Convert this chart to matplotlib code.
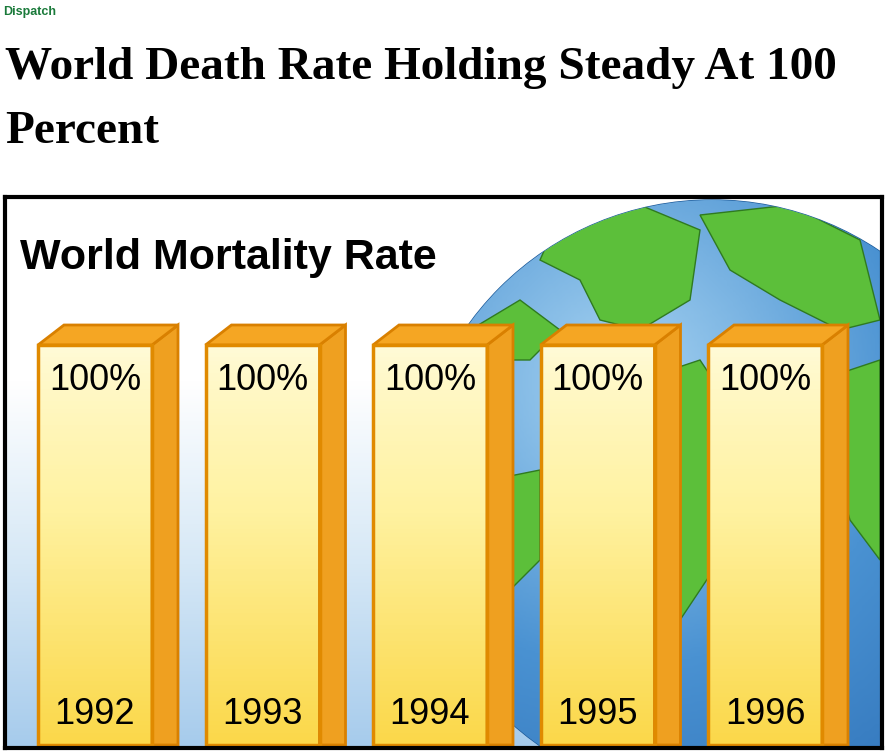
import numpy as np
import matplotlib
matplotlib.use("Agg")
import matplotlib.pyplot as plt
from matplotlib.patches import Polygon, Rectangle, Ellipse
from matplotlib.colors import LinearSegmentedColormap

years = ["1992", "1993", "1994", "1995", "1996"]
rates = [100, 100, 100, 100, 100]
rate_labels = ["100%", "100%", "100%", "100%", "100%"]

W, H = 885, 751
fig = plt.figure(figsize=(W/100, H/100), dpi=100)
fig.patch.set_facecolor("white")
SANS = ["Liberation Sans", "DejaVu Sans"]

fig.text(3/W, 1-12/H, "Dispatch", color="#1a7a3a", fontsize=9, fontweight="bold",
         family=SANS, va="center")
fig.text(5/W, 1-68/H, "World Death Rate Holding Steady At 100", fontsize=34,
         fontweight="bold", family=["Liberation Serif", "DejaVu Serif"], va="center")
fig.text(5/W, 1-132/H, "Percent", fontsize=34,
         fontweight="bold", family=["Liberation Serif", "DejaVu Serif"], va="center")

bx0, by0, bw, bh = 5, 197, 877, 551
ax = fig.add_axes([bx0/W, 1-(by0+bh)/H, bw/W, bh/H])
ppx = 167.5
xl = -90/ppx
ax.set_xlim(xl, xl + bw/ppx)
ax.set_ylim(-0.75, -0.75 + bh*0.25)
ax.set_xticks([]); ax.set_yticks([])
for s in ax.spines.values():
    s.set_linewidth(3); s.set_color("black"); s.set_zorder(20)

x0, x1 = ax.get_xlim(); y0, y1 = ax.get_ylim()
bg = LinearSegmentedColormap.from_list("bg", ["#ffffff", "#ffffff", "#d6e8f6", "#a6cbec"])
ax.imshow(np.linspace(0, 1, 256).reshape(-1, 1), extent=[x0, x1, y0, y1], cmap=bg,
          aspect="auto", zorder=0, origin="upper")

def px(x): return xl + (x - bx0)/ppx
def py(y): return -0.75 + (by0 + bh - y)*0.25
gcx, gcy, gr = px(712), py(500), 300/ppx
globe = Ellipse((gcx, gcy), 2*gr, 2*300*0.25, facecolor="#2f7cc6", edgecolor="#1d5a99", lw=1, zorder=1)
ax.add_patch(globe)
gcm = LinearSegmentedColormap.from_list("g", ["#a8d4f2", "#4a92d2", "#2a6cb4"])
yy, xx = np.mgrid[0:200, 0:200]
rr = np.hypot(xx-70, yy-60)/200
im = ax.imshow(rr, extent=[gcx-gr, gcx+gr, gcy-75, gcy+75], cmap=gcm, zorder=1, aspect="auto")
im.set_clip_path(globe)
lands = [
    [(560, 215), (640, 205), (700, 230), (690, 300), (640, 330), (600, 320), (580, 280), (540, 260)],
    [(700, 215), (790, 205), (860, 240), (880, 320), (840, 330), (780, 300), (730, 270)],
    [(470, 330), (520, 300), (560, 330), (530, 360), (490, 360)],
    [(640, 380), (700, 360), (740, 420), (720, 560), (680, 620), (650, 560), (660, 470)],
    [(820, 380), (880, 360), (880, 560), (850, 520), (830, 450)],
    [(490, 480), (540, 470), (540, 560), (500, 600), (480, 560)],
]
for L in lands:
    p = Polygon([(px(a), py(b)) for a, b in L], closed=True, facecolor="#5cbf3a",
                edgecolor="#2f7a20", lw=1, zorder=2)
    ax.add_patch(p)
    p.set_clip_path(globe)

ax.text(px(20), py(258), "World Mortality Rate", fontsize=31, fontweight="bold",
        family=SANS, va="center", ha="left", zorder=5)

wdt = 114/ppx; dx = 26/ppx; dy = 20*0.25
bars = ax.bar(range(len(years)), rates, width=wdt, color="none", edgecolor="#e08a00",
              linewidth=2.5, zorder=6)
fc = LinearSegmentedColormap.from_list("f", ["#fffbd8", "#fff2a0", "#fbd84a"])
for i, b in enumerate(bars):
    x, w, h = b.get_x(), b.get_width(), b.get_height()
    front = Rectangle((x, 0), w, h, facecolor="none", edgecolor="none")
    ax.add_patch(front)
    g = ax.imshow(np.linspace(1, 0, 100).reshape(-1, 1) ** 0.8, extent=[x, x+w, 0, h],
                  cmap=fc, aspect="auto", zorder=5, origin="lower")
    g.set_clip_path(front)
    side = Polygon([(x+w, 0), (x+w+dx, 0), (x+w+dx, h+dy), (x+w, h)],
                   facecolor="#efa020", edgecolor="#d98000", lw=2, zorder=5)
    ax.add_patch(side)
    top = Polygon([(x, h), (x+dx, h+dy), (x+w+dx, h+dy), (x+w, h)],
                  facecolor="#f5a623", edgecolor="#d98000", lw=2, zorder=5)
    ax.add_patch(top)
    ax.text(x+w/2, h-9, rate_labels[i], ha="center", va="center", fontsize=26,
            family=SANS, zorder=7)
    ax.text(x+w/2, 7.5, years[i], ha="center", va="center", fontsize=26,
            family=SANS, zorder=7)

fig.savefig("out.png", dpi=100)
